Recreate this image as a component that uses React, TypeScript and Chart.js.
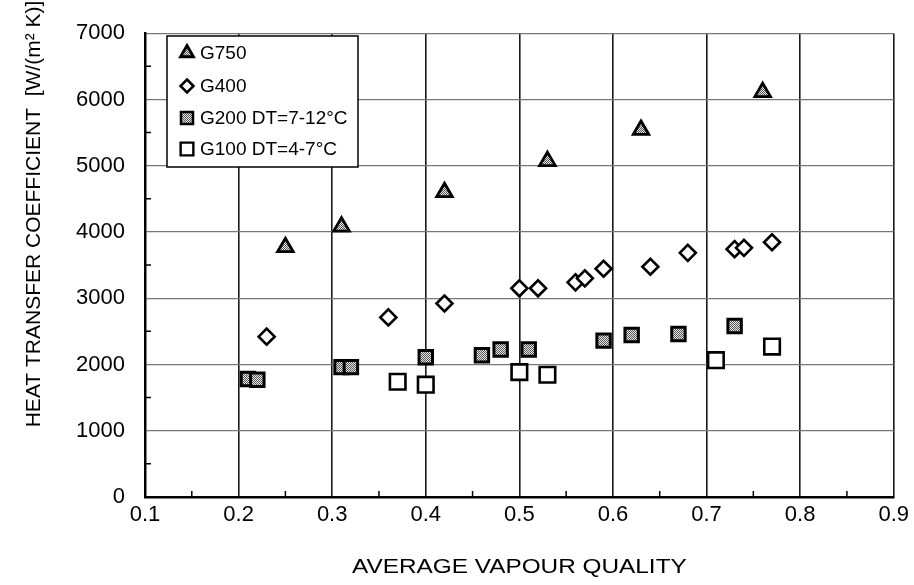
import React, { useEffect, useRef } from 'react';
import { Chart, registerables } from 'chart.js';

Chart.register(...registerables);

// ---- data ----
const seriesNames = ['G750', 'G400', 'G200 DT=7-12°C', 'G100 DT=4-7°C'];

const g750X = [0.25, 0.31, 0.42, 0.53, 0.63, 0.76];
const g750Y = [3770, 4080, 4600, 5070, 5540, 6110];

const g400X = [0.23, 0.36, 0.42, 0.50, 0.52, 0.56, 0.57, 0.59, 0.64, 0.68, 0.73, 0.74, 0.77];
const g400Y = [2420, 2710, 2920, 3150, 3150, 3240, 3300, 3445, 3475, 3685, 3740, 3760, 3845];

const g200X = [0.21, 0.22, 0.31, 0.32, 0.40, 0.46, 0.48, 0.51, 0.59, 0.62, 0.67, 0.73];
const g200Y = [1780, 1770, 1960, 1960, 2110, 2140, 2225, 2225, 2360, 2445, 2460, 2580];

const g100X = [0.37, 0.40, 0.50, 0.53, 0.71, 0.77];
const g100Y = [1740, 1695, 1885, 1845, 2065, 2270];

const xTickValues = [0.1, 0.2, 0.3, 0.4, 0.5, 0.6, 0.7, 0.8, 0.9];
const yTickValues = [0, 1000, 2000, 3000, 4000, 5000, 6000, 7000];
const xMinorTicks = [0.15, 0.25, 0.35, 0.45, 0.55, 0.65, 0.75, 0.85];
const yMinorTicks = [500, 1500, 2500, 3500, 4500, 5500, 6500];

const xTitle = 'AVERAGE VAPOUR QUALITY';
const yTitle = 'HEAT TRANSFER COEFFICIENT  [W/(m² K)]';

const FONT = "'Liberation Sans', Arial, Helvetica, sans-serif";

function toPoints(xs: number[], ys: number[]) {
  return xs.map((x, i) => ({ x, y: ys[i] }));
}

function makePattern(): CanvasPattern | string {
  const c = document.createElement('canvas');
  c.width = 4;
  c.height = 4;
  const g = c.getContext('2d');
  if (!g) return '#999';
  g.fillStyle = '#e8e8e8';
  g.fillRect(0, 0, 4, 4);
  g.fillStyle = '#555';
  for (let y = 0; y < 4; y++) for (let x = 0; x < 4; x++) if ((x + y) % 2 === 0) g.fillRect(x, y, 1, 1);
  return g.createPattern(c, 'repeat') || '#999';
}

function drawMarker(ctx: CanvasRenderingContext2D, style: string, x: number, y: number, r: number, fill: any, lw: number) {
  ctx.beginPath();
  if (style === 'triangle') {
    ctx.moveTo(x, y - r);
    ctx.lineTo(x + r * Math.sin((2 * Math.PI) / 3), y - r * Math.cos((2 * Math.PI) / 3));
    ctx.lineTo(x + r * Math.sin((4 * Math.PI) / 3), y - r * Math.cos((4 * Math.PI) / 3));
    ctx.closePath();
  } else if (style === 'rectRot') {
    ctx.moveTo(x, y - r);
    ctx.lineTo(x + r, y);
    ctx.lineTo(x, y + r);
    ctx.lineTo(x - r, y);
    ctx.closePath();
  } else {
    const s = r * Math.SQRT1_2;
    ctx.rect(x - s, y - s, 2 * s, 2 * s);
  }
  ctx.fillStyle = fill;
  ctx.fill();
  ctx.lineWidth = lw;
  ctx.strokeStyle = '#000';
  ctx.stroke();
}

export default function App() {
  const ref = useRef<HTMLCanvasElement>(null);

  useEffect(() => {
    if (!ref.current) return;
    const pattern = makePattern();

    const styles = [
      { pointStyle: 'triangle', radius: 9, borderWidth: 2.8, bg: pattern, legR: 7.5, legLw: 2.8 },
      { pointStyle: 'rectRot', radius: 8, borderWidth: 2.6, bg: '#fff', legR: 6.5, legLw: 2.5 },
      { pointStyle: 'rect', radius: 9.5, borderWidth: 3, bg: pattern, legR: 8.5, legLw: 2.5 },
      { pointStyle: 'rect', radius: 11, borderWidth: 2.6, bg: '#fff', legR: 9, legLw: 2.4 },
    ];
    const dataSets = [
      toPoints(g750X, g750Y),
      toPoints(g400X, g400Y),
      toPoints(g200X, g200Y),
      toPoints(g100X, g100Y),
    ];

    const decor = {
      id: 'decor',
      afterDatasetsDraw(chart: any) {
        const ctx: CanvasRenderingContext2D = chart.ctx;
        const a = chart.chartArea;
        const xs = chart.scales.x;
        const ys = chart.scales.y;
        ctx.save();
        // minor ticks
        ctx.strokeStyle = '#000';
        ctx.lineWidth = 1.5;
        ctx.beginPath();
        for (const v of xMinorTicks) {
          const px = xs.getPixelForValue(v);
          ctx.moveTo(px, a.bottom);
          ctx.lineTo(px, a.bottom - 6);
        }
        for (const v of yMinorTicks) {
          const py = ys.getPixelForValue(v);
          ctx.moveTo(a.left, py);
          ctx.lineTo(a.left + 6, py);
        }
        ctx.stroke();

        // legend box
        const bx = 167, by = 36, bw = 191, bh = 131;
        ctx.fillStyle = '#fff';
        ctx.fillRect(bx, by, bw, bh);
        ctx.lineWidth = 1.5;
        ctx.strokeStyle = '#000';
        ctx.strokeRect(bx, by, bw, bh);
        const rowsY = [53, 86, 118, 149];
        ctx.font = `19px ${FONT}`;
        ctx.textBaseline = 'middle';
        ctx.textAlign = 'left';
        seriesNames.forEach((name, i) => {
          const st = styles[i];
          drawMarker(ctx, st.pointStyle, 187, rowsY[i], st.legR, st.bg, st.legLw);
          ctx.fillStyle = '#000';
          ctx.fillText(name, 200, rowsY[i] + 1);
        });
        ctx.restore();
      },
      afterDraw(chart: any) {
        const ctx: CanvasRenderingContext2D = chart.ctx;
        const a = chart.chartArea;
        ctx.save();
        ctx.fillStyle = '#000';
        ctx.textAlign = 'center';
        ctx.textBaseline = 'middle';
        // x title (slightly widened like the reference)
        ctx.font = `21px ${FONT}`;
        ctx.translate((a.left + a.right) / 2, 567);
        ctx.scale(1.16, 1);
        ctx.fillText(xTitle, 0, 0);
        ctx.restore();
        ctx.save();
        ctx.fillStyle = '#000';
        ctx.textAlign = 'center';
        ctx.textBaseline = 'middle';
        ctx.font = `21px ${FONT}`;
        ctx.translate(34, 214);
        ctx.rotate(-Math.PI / 2);
        ctx.fillText(yTitle, 0, 0);
        ctx.restore();
      },
    };

    const chart = new Chart(ref.current, {
      type: 'scatter',
      data: {
        datasets: dataSets.map((d, i) => ({
          label: seriesNames[i],
          data: d,
          pointStyle: styles[i].pointStyle as any,
          pointRadius: styles[i].radius,
          pointHoverRadius: styles[i].radius,
          pointBorderWidth: styles[i].borderWidth,
          pointBorderColor: '#000',
          pointBackgroundColor: styles[i].bg as any,
          showLine: false,
        })),
      },
      options: {
        animation: false,
        responsive: true,
        maintainAspectRatio: false,
        events: [],
        layout: { padding: { top: 22, right: 19, left: 0, bottom: 0 } },
        plugins: {
          legend: { display: false },
          tooltip: { enabled: false },
          title: { display: false },
        },
        scales: {
          x: {
            type: 'linear',
            min: 0.1,
            max: 0.9,
            afterBuildTicks: (s: any) => {
              s.ticks = xTickValues.map((v) => ({ value: v }));
            },
            afterFit: (s: any) => {
              s.height = 88;
            },
            grid: { color: '#1a1a1a', lineWidth: 1.6, drawTicks: false },
            border: { color: '#000', width: 2.5 },
            ticks: {
              font: { size: 22, family: FONT },
              color: '#000',
              padding: 5,
              maxRotation: 0,
              autoSkip: false,
              callback: (v: any) => Number(v).toFixed(1),
            },
          },
          y: {
            type: 'linear',
            min: 0,
            max: 7000,
            afterBuildTicks: (s: any) => {
              s.ticks = yTickValues.map((v) => ({ value: v }));
            },
            afterFit: (s: any) => {
              s.width = 145;
            },
            grid: { color: '#777', lineWidth: 1.2, drawTicks: false },
            border: { color: '#000', width: 2.5 },
            ticks: {
              font: { size: 22, family: FONT },
              color: '#000',
              padding: 20,
              autoSkip: false,
              callback: (v: any) => String(v),
            },
          },
        },
      },
      plugins: [decor],
    } as any);

    return () => chart.destroy();
  }, []);

  return (
    <div style={{ position: 'absolute', left: 0, top: 0, width: 914, height: 585, background: '#fff' }}>
      <canvas ref={ref} />
    </div>
  );
}
